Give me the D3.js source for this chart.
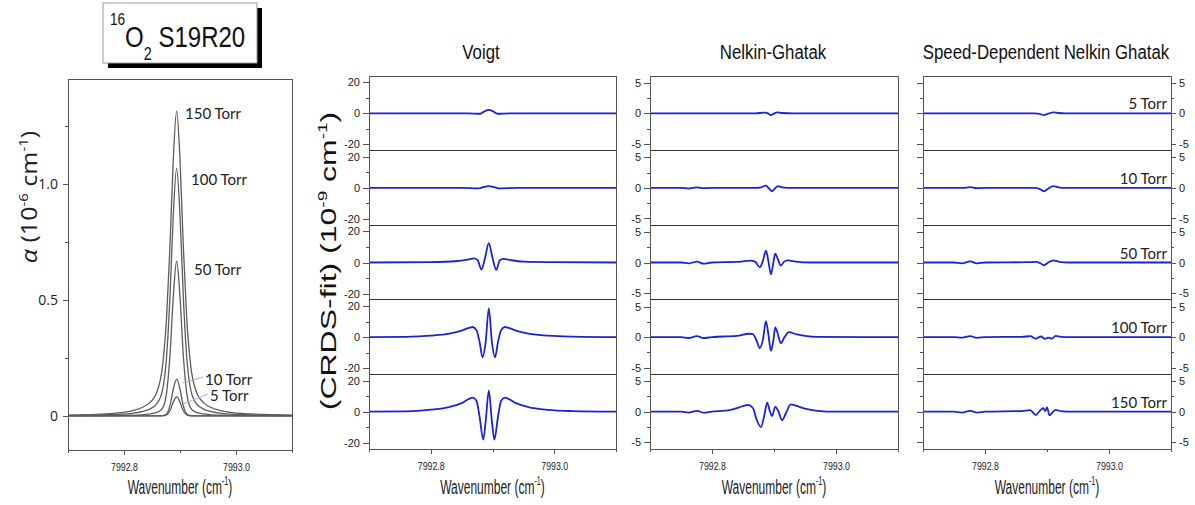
<!DOCTYPE html>
<html lang="en">
<head>
<meta charset="utf-8">
<title>16O2 S19R20 line shape residuals</title>
<script src="https://cdn.jsdelivr.net/npm/d3@7"></script>
<style>
  body { margin: 0; background: #fff; }
  .frame { fill: none; stroke: #555; stroke-width: 1; shape-rendering: crispEdges; }
  .sep { stroke: #333; stroke-width: 1.2; shape-rendering: crispEdges; }
  .axis line { stroke: #555; shape-rendering: crispEdges; }
  .axis text { fill: #222; }
  .spec { fill: none; stroke: #5c5c5c; stroke-width: 1.3; }
  .resid { fill: none; stroke: #1c22d8; stroke-width: 1.8; }
</style>
</head>
<body>
<script>
var w = 1195, h = 505;
var AR = "'Liberation Sans', Arial, sans-serif";
var OS = "'Open Sans', sans-serif";
var LA = "Lato, sans-serif";

// ---- data: absorption (10^-6 cm^-1) on a common wavenumber grid ----
var wavenumber = [7992.700, 7992.774, 7992.814, 7992.844, 7992.859, 7992.869, 7992.876, 7992.882, 7992.888, 7992.894,
                  7992.900, 7992.906, 7992.912, 7992.919, 7992.929, 7992.944, 7992.974, 7993.014, 7993.100];
var alpha5   = [0, 0, 0, 0.0001, 0.0002, 0.0006, 0.0045, 0.022, 0.059, 0.082, 0.059, 0.022, 0.0045, 0.0006, 0.0002, 0.0001, 0, 0, 0];
var alpha10  = [0, 0, 0.0001, 0.0002, 0.0004, 0.0012, 0.0088, 0.043, 0.115, 0.159, 0.115, 0.043, 0.0088, 0.0012, 0.0004, 0.0002, 0.0001, 0, 0];
var alpha50  = [0.0005, 0.0014, 0.003, 0.008, 0.015, 0.034, 0.099, 0.257, 0.513, 0.668, 0.513, 0.257, 0.099, 0.034, 0.015, 0.008, 0.003, 0.0014, 0.0005];
var alpha100 = [0.002, 0.005, 0.011, 0.027, 0.053, 0.114, 0.254, 0.510, 0.865, 1.069, 0.865, 0.510, 0.254, 0.114, 0.053, 0.027, 0.011, 0.005, 0.002];
var alpha150 = [0.003, 0.010, 0.022, 0.053, 0.105, 0.219, 0.422, 0.727, 1.107, 1.315, 1.107, 0.727, 0.422, 0.219, 0.105, 0.053, 0.022, 0.010, 0.003];
var pressures = ["5 Torr", "10 Torr", "50 Torr", "100 Torr", "150 Torr"];

// ---- data: residuals (CRDS - fit, 10^-9 cm^-1), [wavenumber, value] ----
var voigt5 = [[7992.70,0],[7992.86,0],[7992.880,-0.3],[7992.888,1.5],[7992.894,2.2],[7992.900,1.5],[7992.908,-0.3],[7992.93,0],[7993.10,0]];
var voigt10 = [[7992.70,0],[7992.85,0],[7992.878,-0.3],[7992.886,0.6],[7992.894,1.1],[7992.902,0.6],[7992.910,-0.3],[7992.94,0],[7993.10,0]];
var voigt50 = [[7992.70,0],[7992.80,0.3],[7992.84,0.8],[7992.86,1.8],[7992.870,2.6],[7992.876,1.5],[7992.882,-4.5],[7992.888,3],[7992.894,12.5],
               [7992.900,3],[7992.906,-4.7],[7992.912,1.5],[7992.918,2.3],[7992.93,1.5],[7992.95,0.6],[7993.0,0.2],[7993.10,0]];
var voigt100 = [[7992.70,0],[7992.76,0.2],[7992.80,1.0],[7992.83,2.3],[7992.85,4.2],[7992.862,6.0],[7992.868,6.5],[7992.874,4.5],[7992.879,-3],
                [7992.884,-13],[7992.889,-3],[7992.894,18.5],[7992.899,-3],[7992.904,-13],[7992.909,-3],[7992.914,4.5],[7992.920,6.5],
                [7992.926,6.0],[7992.938,4.2],[7992.958,2.3],[7992.99,0.9],[7993.03,0.3],[7993.10,0]];
var voigt150 = [[7992.70,0],[7992.76,0.2],[7992.80,1.3],[7992.83,3.0],[7992.85,5.5],[7992.862,8.3],[7992.868,9.0],[7992.874,7.0],[7992.879,-3],
                [7992.885,-18],[7992.889,-6],[7992.894,13.5],[7992.899,-6],[7992.903,-18],[7992.909,-3],[7992.914,7],[7992.920,9],
                [7992.926,8.3],[7992.938,5.5],[7992.958,3.0],[7992.99,1.2],[7993.03,0.4],[7993.10,0]];

var ng5 = [[7992.70,0],[7992.87,0],[7992.885,0.1],[7992.890,0],[7992.895,-0.3],[7992.900,-0.05],[7992.905,0.15],[7992.912,0.05],[7992.93,0],[7993.10,0]];
var ng10 = [[7992.70,0],[7992.75,0],[7992.762,-0.1],[7992.776,0.08],[7992.786,-0.05],[7992.80,0],[7992.87,0],[7992.879,0.1],[7992.887,0.37],
            [7992.892,-0.1],[7992.897,-0.55],[7992.902,-0.05],[7992.906,0.3],[7992.913,0.1],[7992.93,0],[7993.10,0]];
var ng50 = [[7992.70,0],[7992.75,0],[7992.762,-0.15],[7992.776,0.15],[7992.786,-0.2],[7992.80,0],[7992.84,0.1],[7992.862,0.3],[7992.870,0.1],
            [7992.877,-0.8],[7992.882,0.2],[7992.887,1.95],[7992.891,0.2],[7992.895,-1.95],[7992.899,0],[7992.902,1.45],[7992.906,0.6],
            [7992.911,-0.5],[7992.916,0.1],[7992.922,0.35],[7992.935,0.15],[7992.96,0],[7993.10,0]];
var ng100 = [[7992.70,0],[7992.75,0],[7992.762,-0.15],[7992.776,0.15],[7992.786,-0.15],[7992.80,0],[7992.84,0.2],[7992.86,0.55],[7992.866,0.5],
             [7992.872,-0.6],[7992.877,-1.8],[7992.882,-0.5],[7992.887,2.6],[7992.891,0.4],[7992.895,-2.25],[7992.899,-0.5],[7992.902,1.6],
             [7992.906,0.6],[7992.911,-1.0],[7992.917,0],[7992.924,0.8],[7992.935,0.5],[7992.95,0.2],[7992.97,0.05],[7993.10,0]];
var ng150 = [[7992.70,0],[7992.75,0],[7992.762,-0.15],[7992.776,0.15],[7992.786,-0.15],[7992.80,0],[7992.83,0.3],[7992.85,0.9],[7992.858,1.1],
             [7992.866,0.6],[7992.872,-1.3],[7992.879,-2.5],[7992.884,-0.8],[7992.889,1.5],[7992.893,0.2],[7992.897,-0.7],[7992.902,0.8],
             [7992.907,0.1],[7992.913,-1.4],[7992.919,-0.3],[7992.927,1.2],[7992.935,1.0],[7992.95,0.5],[7992.97,0.15],[7993.0,0],[7993.10,0]];

var sdng5 = [[7992.70,0],[7992.88,0],[7992.888,-0.1],[7992.895,-0.3],[7992.902,-0.05],[7992.910,0.15],[7992.918,0.05],[7992.93,0],[7993.10,0]];
var sdng10 = [[7992.70,0],[7992.765,0],[7992.776,0.12],[7992.786,-0.05],[7992.80,0],[7992.88,0],[7992.888,-0.15],[7992.895,-0.55],
              [7992.902,-0.1],[7992.910,0.3],[7992.918,0.1],[7992.93,0],[7993.10,0]];
var sdng50 = [[7992.70,0],[7992.75,0],[7992.763,-0.15],[7992.776,0.2],[7992.787,-0.15],[7992.80,0],[7992.87,0.05],[7992.882,0.1],
              [7992.889,-0.1],[7992.895,-0.45],[7992.902,0],[7992.911,0.35],[7992.92,0.1],[7992.935,0],[7993.10,0]];
var sdng100 = [[7992.70,0],[7992.75,0],[7992.763,-0.1],[7992.776,0.15],[7992.787,-0.12],[7992.80,0],[7992.86,0.05],[7992.873,0.15],
               [7992.882,-0.25],[7992.89,0.1],[7992.897,-0.3],[7992.902,-0.1],[7992.908,-0.25],[7992.914,0.2],[7992.922,0.05],[7992.94,0],[7993.10,0]];
var sdng150 = [[7992.70,0],[7992.75,0],[7992.763,-0.15],[7992.776,0.15],[7992.787,-0.15],[7992.80,0],[7992.86,0.1],[7992.873,0.25],
               [7992.882,-0.55],[7992.888,0.1],[7992.894,0.6],[7992.897,0.1],[7992.900,0.7],[7992.904,-0.6],[7992.909,-0.1],[7992.914,0.3],
               [7992.922,0.1],[7992.94,0],[7993.10,0]];

// ---- tick values ----
var xMajor = [7992.8, 7993.0];
var xMinor = [7992.7, 7992.9, 7993.1];
var alphaMajor = [0, 0.5, 1.0];
var alphaMinor = [0.25, 0.75, 1.25];

var svg = d3.select("body").append("svg")
    .attr("width", w)
    .attr("height", h);

// horizontally squeezed text helper
function sqText(x, y, k) {
  return svg.append("text").attr("transform", "translate(" + x + "," + y + ") scale(" + k + ",1)");
}

function bottomAxis(x, y0) {
  var g = svg.append("g").attr("class", "axis").attr("transform", "translate(0," + y0 + ")")
      .call(d3.axisBottom(x).tickValues(xMajor).tickSize(5).tickPadding(8).tickFormat(d3.format(".1f")));
  g.select(".domain").remove();
  g.selectAll("text").attr("font-family", AR).attr("font-size", 11).attr("transform", "scale(0.8,1)");
  var m = svg.append("g").attr("class", "axis").attr("transform", "translate(0," + y0 + ")")
      .call(d3.axisBottom(x).tickValues(xMinor).tickSize(3).tickFormat(""));
  m.select(".domain").remove();

  var t = sqText((x.range()[0] + x.range()[1]) / 2, 494, 0.6)
      .attr("text-anchor", "middle").attr("font-family", AR).attr("font-size", 20).attr("fill", "#222");
  t.append("tspan").text("Wavenumber (cm");
  t.append("tspan").attr("font-size", 12).attr("dy", -9).text("-1");
  t.append("tspan").attr("dy", 9).text(")");
}

// ================= left panel: absorption =================
var L = { x0: 68, x1: 292, y0: 79, y1: 450 };
var xL = d3.scaleLinear().domain([7992.7, 7993.1]).range([L.x0, L.x1]);
var yL = d3.scaleLinear().domain([-0.147, 1.453]).range([L.y1, L.y0]);

var specLine = d3.line()
    .x(function(d, i) { return xL(wavenumber[i]); })
    .y(function(d) { return yL(d); })
    .curve(d3.curveMonotoneX);

[alpha5, alpha10, alpha50, alpha100, alpha150].forEach(function(vals) {
  svg.append("path").datum(vals).attr("class", "spec").attr("d", specLine);
});

svg.append("rect").attr("class", "frame")
    .attr("x", L.x0).attr("y", L.y0).attr("width", L.x1 - L.x0).attr("height", L.y1 - L.y0);

var gy = svg.append("g").attr("class", "axis").attr("transform", "translate(" + L.x0 + ",0)")
    .call(d3.axisLeft(yL).tickValues(alphaMajor).tickSize(5).tickPadding(5)
      .tickFormat(function(d) { return d === 0 ? "0" : d3.format(".1f")(d); }));
gy.select(".domain").remove();
gy.selectAll("text").attr("font-family", OS).attr("font-size", 14);
var gym = svg.append("g").attr("class", "axis").attr("transform", "translate(" + L.x0 + ",0)")
    .call(d3.axisLeft(yL).tickValues(alphaMinor).tickSize(3).tickFormat(""));
gym.select(".domain").remove();
bottomAxis(xL, L.y1);

// pressure labels + leader lines
var leftLabelPos = [[210, 401], [205, 385], [194, 275], [191, 185], [185, 119]];
pressures.forEach(function(p, i) {
  svg.append("text").attr("x", leftLabelPos[i][0]).attr("y", leftLabelPos[i][1])
      .attr("font-family", LA).attr("font-size", 15).attr("fill", "#222").text(p);
});
svg.append("line").attr("x1", 203).attr("y1", 377).attr("x2", 183).attr("y2", 383)
    .attr("stroke", "#8db6e2").attr("stroke-width", 1);
svg.append("line").attr("x1", 208).attr("y1", 394).attr("x2", 183).attr("y2", 404)
    .attr("stroke", "#8db6e2").attr("stroke-width", 1);

// y label
var ya = sqText(37, 197, 0.9).attr("font-family", OS).attr("font-size", 25).attr("fill", "#222")
    .attr("text-anchor", "middle");
ya.attr("transform", ya.attr("transform") + " rotate(-90)");
ya.append("tspan").attr("font-style", "italic").text("\u03b1");
ya.append("tspan").text(" (10");
ya.append("tspan").attr("font-size", 15).attr("dy", -10).text("-6");
ya.append("tspan").attr("dy", 10).text(" cm");
ya.append("tspan").attr("font-size", 15).attr("dy", -10).text("-1");
ya.append("tspan").attr("dy", 10).text(")");

// title box
svg.append("rect").attr("x", 108).attr("y", 8).attr("width", 154).attr("height", 60).attr("fill", "#000");
svg.append("rect").attr("x", 103).attr("y", 3).attr("width", 154).attr("height", 60)
    .attr("fill", "#fff").attr("stroke", "#999").attr("stroke-width", 1);
var tt = sqText(110, 47, 0.8).attr("font-family", AR).attr("font-size", 30).attr("fill", "#111");
tt.append("tspan").attr("font-size", 17).attr("dy", -22).text("16");
tt.append("tspan").attr("dy", 22).text("O");
tt.append("tspan").attr("font-size", 18).attr("dy", 13).text("2");
tt.append("tspan").attr("dy", -13).text(" S19R20");

// ================= residual columns =================
var rTop = 76, rBottom = 449;
var columns = [
  { title: "Voigt", titleX: 481, x0: 369, x1: 616, rows: [voigt5, voigt10, voigt50, voigt100, voigt150],
    lim: 24, major: [-20, 0, 20], minor: [-10, 10], right: false },
  { title: "Nelkin-Ghatak", titleX: 773, x0: 650, x1: 898, rows: [ng5, ng10, ng50, ng100, ng150],
    lim: 6.1, major: [-5, 0, 5], minor: [-2.5, 2.5], right: false },
  { title: "Speed-Dependent Nelkin Ghatak", titleX: 1046, x0: 923, x1: 1171, rows: [sdng5, sdng10, sdng50, sdng100, sdng150],
    lim: 6.1, major: [-5, 0, 5], minor: [-2.5, 2.5], right: true }
];

columns.forEach(function(col) {
  var x = d3.scaleLinear().domain([7992.7, 7993.1]).range([col.x0, col.x1]);
  var rowH = (rBottom - rTop) / col.rows.length;

  col.rows.forEach(function(data, i) {
    var top = rTop + i * rowH;
    var y = d3.scaleLinear().domain([-col.lim, col.lim]).range([top + rowH, top]);
    var line = d3.line()
        .x(function(d) { return x(d[0]); })
        .y(function(d) { return y(d[1]); })
        .curve(d3.curveMonotoneX);
    svg.append("path").datum(data).attr("class", "resid").attr("d", line);

    var left = svg.append("g").attr("class", "axis").attr("transform", "translate(" + col.x0 + ",0)")
        .call(d3.axisLeft(y).tickValues(col.major).tickSize(6).tickPadding(3)
          .tickFormat(col.right ? "" : function(d) { return String(d); }));
    left.select(".domain").remove();
    left.selectAll("text").attr("font-family", AR).attr("font-size", 11);
    var leftMin = svg.append("g").attr("class", "axis").attr("transform", "translate(" + col.x0 + ",0)")
        .call(d3.axisLeft(y).tickValues(col.minor).tickSize(3).tickFormat(""));
    leftMin.select(".domain").remove();

    if (col.right) {
      var r = svg.append("g").attr("class", "axis").attr("transform", "translate(" + col.x1 + ",0)")
          .call(d3.axisRight(y).tickValues(col.major).tickSize(5).tickPadding(3)
            .tickFormat(function(d) { return String(d); }));
      r.select(".domain").remove();
      r.selectAll("text").attr("font-family", AR).attr("font-size", 11);
      var rMin = svg.append("g").attr("class", "axis").attr("transform", "translate(" + col.x1 + ",0)")
          .call(d3.axisRight(y).tickValues(col.minor).tickSize(3).tickFormat(""));
      rMin.select(".domain").remove();

      svg.append("text").attr("x", col.x1 - 4).attr("y", y(0) - 4)
          .attr("text-anchor", "end").attr("font-family", LA).attr("font-size", 15).attr("fill", "#222")
          .text(pressures[i]);
    }

    if (i > 0) {
      svg.append("line").attr("class", "sep")
          .attr("x1", col.x0).attr("x2", col.x1).attr("y1", top).attr("y2", top);
    }
  });

  svg.append("rect").attr("class", "frame")
      .attr("x", col.x0).attr("y", rTop).attr("width", col.x1 - col.x0).attr("height", rBottom - rTop);

  bottomAxis(x, rBottom);

  sqText(col.titleX, 59, 0.8).attr("text-anchor", "middle").attr("font-family", AR)
      .attr("font-size", 21).attr("fill", "#111").text(col.title);
});

// shared residual y label
var yr = sqText(336, 261, 0.7).attr("font-family", AR).attr("font-size", 32).attr("fill", "#111")
    .attr("text-anchor", "middle");
yr.attr("transform", yr.attr("transform") + " rotate(-90)");
yr.append("tspan").text("(CRDS-fit) (10");
yr.append("tspan").attr("font-size", 19).attr("dy", -13).text("-9");
yr.append("tspan").attr("dy", 13).text(" cm");
yr.append("tspan").attr("font-size", 19).attr("dy", -13).text("-1");
yr.append("tspan").attr("dy", 13).text(")");
</script>
</body>
</html>
